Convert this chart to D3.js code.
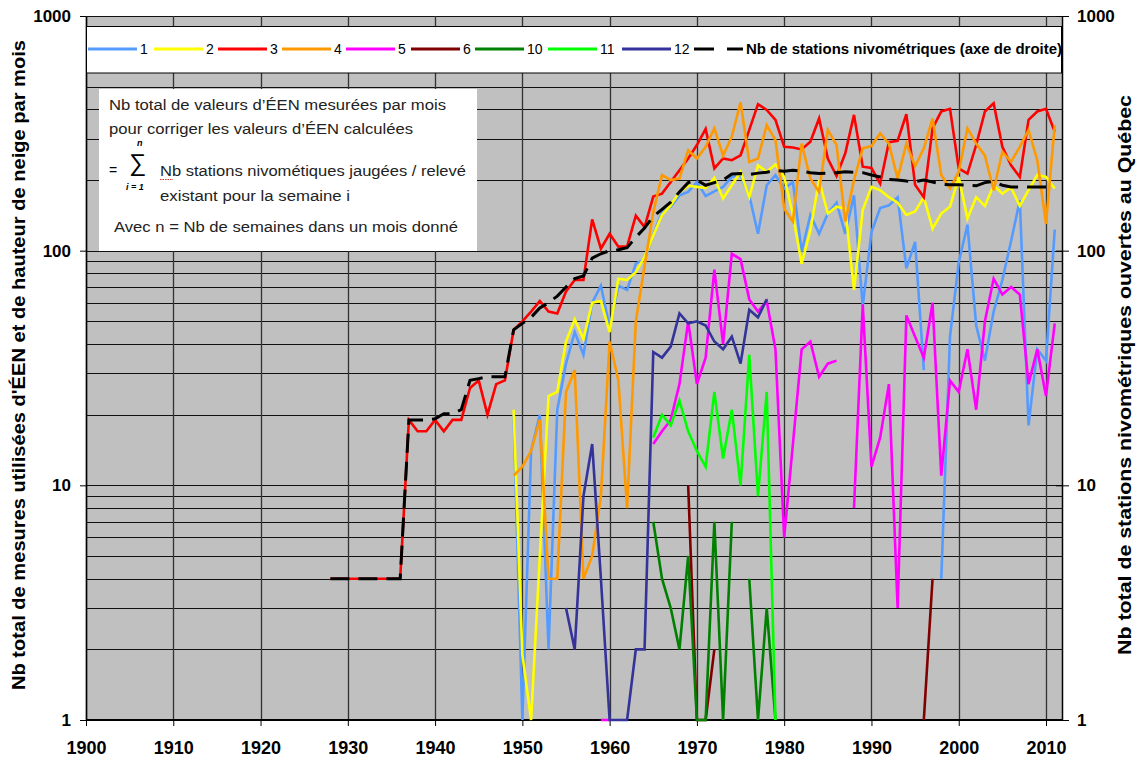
<html>
<head>
<meta charset="utf-8">
<script src="https://d3js.org/d3.v7.min.js"></script>
<style>
body { margin:0; background:#fff; }
text { font-family: Arial, "Liberation Sans", sans-serif; }
</style>
</head>
<body>
<div id="chart"></div>
<script>
// months shown in the legend, their colours and the first year of each series
var months = ["1","2","3","4","5","6","10","11","12"];
var monthColors = ["#559bff","#ffff00","#ff0000","#ff9900","#ff00ff","#800000","#008000","#00ff00","#333399"];
var startYears = [1949,1949,1928,1949,1959,1969,1965,1965,1955];

// values read year by year (null = no value)
var m1 = [20,1,14,20,2,21,33,45,36,60, 71,47,71,68,88,92,117,146,154,172, 178,196,171,179,187,206,210,172,118,190,
          210,184,196,99,142,118,144,160,118,172, 58,120,152,156,169,84,109,31,null,4, 43,89,129,48,34,55,75,110,164,18, 38,34,123];
var m2 = [21,1.9,1,5,24,25,41,51,42,60, 61,45,76,75,81,94,116,142,156,178, 189,187,185,204,167,190,217,169,231,217,
          233,206,142,88,122,200,144,154,151,68, 149,187,181,169,160,142,147,169,124,144, 154,206,137,169,155,190,175,186,155,181, 210,206,184];
var m3 = [4,4,4,4,4,4,4,4,4, 19,17,17,19,17,19,19,26,28,20,27,28,
          46,50,55,61,55,54,67,75,75,136, 102,118,104,104,141,126,170,175,196,220, 247,282,330,224,247,243,255,327,421,398,
          361,277,275,270,291,366,247,208,260,379, 228,225,193,290,294,382,191,169,332,392, 402,224,213,282,392,425,277,231,206,361, 392,402,321];
var m4 = [11,12,14,19,4,4,25,31,4,5, 9,41,28,8,50,86,146,210,200,203, 268,247,277,332,254,306,429,239,247,343,
          296,151,133,286,203,178,327,282,133,200, 273,279,316,286,203,286,229,273,366,210, 184,217,332,286,254,181,264,239,277,327, 243,130,343];
var m5 = [1,1,null,null,null,null, 15,17,19,27,50,27,35,83,40,97,92,62,55,61,38,6,15,38,41,29,33,34, null,
          8,59,12,16,27,3,53,43,35,60,11,28,25,38,21,50,76,65,70,65,27,38,24,49];
var m6 = [10,1,1,2, null,null,null,null,null,null,null,null,null,null,null,null,null,null,null,null,null,null,null,null,null,null,null, 1,4];
var m10 = [7,4,3,2,5,1,1,7,1,7,null,4,1,3,1];
var m11 = [16,20,18,23,17,14,12,25,13,21,10,36,9,25,1];
var m12 = [3,2,9,15,4,1,1,1,2,2, 37,35,39,54,49,50,48,41,38,43, 33,56,52,62];

// number of snow stations (right axis)
var stationStart = 1928;
var stations = [4,4,4,4,4,4,4,4,4, 19,19,19,19.2,20.2,20.2,21,28,28.5,29,29,29,
                46,49,52,57,60,64,70,76,78,93, 97,100,101,103,114,125,140,150,161,178, 195,200,190,195,200,212,213,211,214,216,
                220,218,220,218,215,213,214,215,217,216, 215,210,206,201,200,198,197,200,196,192, 191,191,190,189,195,197,190,187,187,187, 187,187];

var xTicks = d3.range(1900, 2011, 10);
var yTicks = [1, 10, 100, 1000];

var allMonths = [m1,m2,m3,m4,m5,m6,m10,m11,m12];

var width = 1139, height = 761;
var plotLeft = 86, plotRight = 1062, plotTop = 16, plotBottom = 720;

var svg = d3.select("#chart").append("svg")
    .attr("width", width).attr("height", height);

var x = d3.scaleLinear().domain([1900, 2010]).range([plotLeft, 1046]);
var y = d3.scaleLog().domain([1, 1000]).range([plotBottom, plotTop]);

// plot background
svg.append("rect")
    .attr("x", plotLeft).attr("y", plotTop)
    .attr("width", plotRight - plotLeft).attr("height", plotBottom - plotTop)
    .attr("fill", "#c0c0c0");

// horizontal grid (log minor ticks)
svg.append("g").selectAll("line")
    .data(y.ticks())
    .enter().append("line")
    .attr("x1", plotLeft).attr("x2", plotRight)
    .attr("y1", function(d){ return Math.round(y(d)) + 0.5; })
    .attr("y2", function(d){ return Math.round(y(d)) + 0.5; })
    .attr("stroke", "#111").attr("stroke-width", 1);

// vertical grid
svg.append("g").selectAll("line")
    .data(xTicks)
    .enter().append("line")
    .attr("x1", function(d){ return Math.round(x(d)) + 0.5; })
    .attr("x2", function(d){ return Math.round(x(d)) + 0.5; })
    .attr("y1", plotTop).attr("y2", plotBottom)
    .attr("stroke", "#333").attr("stroke-width", 1.3);

// axes
var xAxis = svg.append("g")
    .attr("transform", "translate(0," + plotBottom + ")")
    .call(d3.axisBottom(x).tickValues(xTicks).tickFormat(d3.format("d")).tickSizeInner(6).tickSizeOuter(0).tickPadding(15));
xAxis.select(".domain").attr("d", "M" + plotLeft + ",0H" + plotRight).attr("stroke", "#000").attr("stroke-width", 2);
xAxis.selectAll("text").style("font-size", "18px").style("font-weight", "bold").attr("fill", "#000");

var yLeft = svg.append("g")
    .attr("transform", "translate(" + plotLeft + ",0)")
    .call(d3.axisLeft(y).tickValues(yTicks).tickFormat(d3.format("d")).tickSizeInner(6).tickSizeOuter(0).tickPadding(9));
yLeft.select(".domain").attr("stroke", "#000").attr("stroke-width", 1.5);
yLeft.selectAll("text").style("font-size", "17px").style("font-weight", "bold").attr("fill", "#000");

var yRight = svg.append("g")
    .attr("transform", "translate(" + plotRight + ",0)")
    .call(d3.axisRight(y).tickValues(yTicks).tickFormat(d3.format("d")).tickSizeInner(7).tickSizeOuter(0).tickPadding(8));
yRight.select(".domain").attr("stroke", "#000").attr("stroke-width", 1.5);
yRight.selectAll("text").style("font-size", "17px").style("font-weight", "bold").attr("fill", "#000");
yRight.selectAll(".tick line").attr("x1", -6);

// series
function toPoints(start, vals) {
  return vals.map(function(v, i){ return {year: start + i, v: v}; });
}
var line = d3.line()
    .defined(function(d){ return d.v != null; })
    .x(function(d){ return x(d.year); })
    .y(function(d){ return y(d.v); });

var series = svg.append("g");
allMonths.forEach(function(vals, i) {
  series.append("path")
      .datum(toPoints(startYears[i], vals))
      .attr("d", line)
      .attr("fill", "none")
      .attr("stroke", monthColors[i])
      .attr("stroke-width", 2.6);
});
series.append("path")
    .datum(toPoints(stationStart, stations))
    .attr("d", line)
    .attr("fill", "none")
    .attr("stroke", "#000")
    .attr("stroke-width", 3)
    .attr("stroke-dasharray", "19,9");

// legend
var lg = svg.append("g");
lg.append("rect")
    .attr("x", plotLeft + 0.5).attr("y", 26.5)
    .attr("width", plotRight - plotLeft - 1).attr("height", 46.5)
    .attr("fill", "#fff").attr("stroke", "#000");
var legX = [88, 154, 218, 282, 346, 411, 475, 548, 622];
var legY = 49;
months.forEach(function(m, i) {
  lg.append("line")
      .attr("x1", legX[i]).attr("x2", legX[i] + 49)
      .attr("y1", legY).attr("y2", legY)
      .attr("stroke", monthColors[i]).attr("stroke-width", 3);
  lg.append("text")
      .attr("x", legX[i] + 52).attr("y", legY + 5)
      .style("font-size", "14px")
      .text(m);
});
lg.append("line")
    .attr("x1", 694).attr("x2", 743)
    .attr("y1", legY).attr("y2", legY)
    .attr("stroke", "#000").attr("stroke-width", 3)
    .attr("stroke-dasharray", "20,13");
lg.append("text")
    .attr("x", 746).attr("y", legY + 5)
    .attr("textLength", 316).attr("lengthAdjust", "spacingAndGlyphs")
    .style("font-size", "15px").style("font-weight", "bold")
    .text("Nb de stations nivométriques (axe de droite)");

// formula box
var nb = svg.append("g");
nb.append("rect")
    .attr("x", 99).attr("y", 89).attr("width", 378).attr("height", 162)
    .attr("fill", "#fff");
function note(tx, ty, len, s) {
  nb.append("text")
      .attr("x", tx).attr("y", ty)
      .attr("textLength", len).attr("lengthAdjust", "spacingAndGlyphs")
      .style("font-size", "14px").attr("fill", "#222")
      .text(s);
}
note(109, 110, 337, "Nb total de valeurs d’ÉEN mesurées par mois");
note(109, 134, 304, "pour corriger les valeurs d’ÉEN calculées");
note(160, 176, 306, "Nb stations nivométiques jaugées / relevé");
note(160, 201, 190, "existant pour la semaine i");
note(114, 232, 344, "Avec n = Nb de semaines dans un mois donné");
nb.append("text").attr("x", 109).attr("y", 175).style("font-size", "14px").text("=");
nb.append("text").attr("x", 129).attr("y", 171).style("font-size", "24px").text("∑");
nb.append("text").attr("x", 137).attr("y", 146).style("font-size", "9px")
    .style("font-style", "italic").style("font-weight", "bold").text("n");
nb.append("text").attr("x", 126).attr("y", 190).style("font-size", "9px")
    .style("font-style", "italic").style("font-weight", "bold").text("i = 1");
nb.append("line").attr("x1", 160).attr("x2", 173).attr("y1", 179.5).attr("y2", 179.5)
    .attr("stroke", "#e03030").attr("stroke-width", 1).attr("stroke-dasharray", "1.5,1");

// axis titles
svg.append("text")
    .attr("transform", "translate(25,365) rotate(-90)")
    .attr("text-anchor", "middle")
    .attr("textLength", 650).attr("lengthAdjust", "spacingAndGlyphs")
    .style("font-size", "19px").style("font-weight", "bold")
    .text("Nb total de mesures utilisées d'ÉEN et de hauteur de neige par mois");
svg.append("text")
    .attr("transform", "translate(1131,375) rotate(-90)")
    .attr("text-anchor", "middle")
    .attr("textLength", 560).attr("lengthAdjust", "spacingAndGlyphs")
    .style("font-size", "19px").style("font-weight", "bold")
    .text("Nb total de stations nivométriques ouvertes au Québec");
</script>
</body>
</html>
